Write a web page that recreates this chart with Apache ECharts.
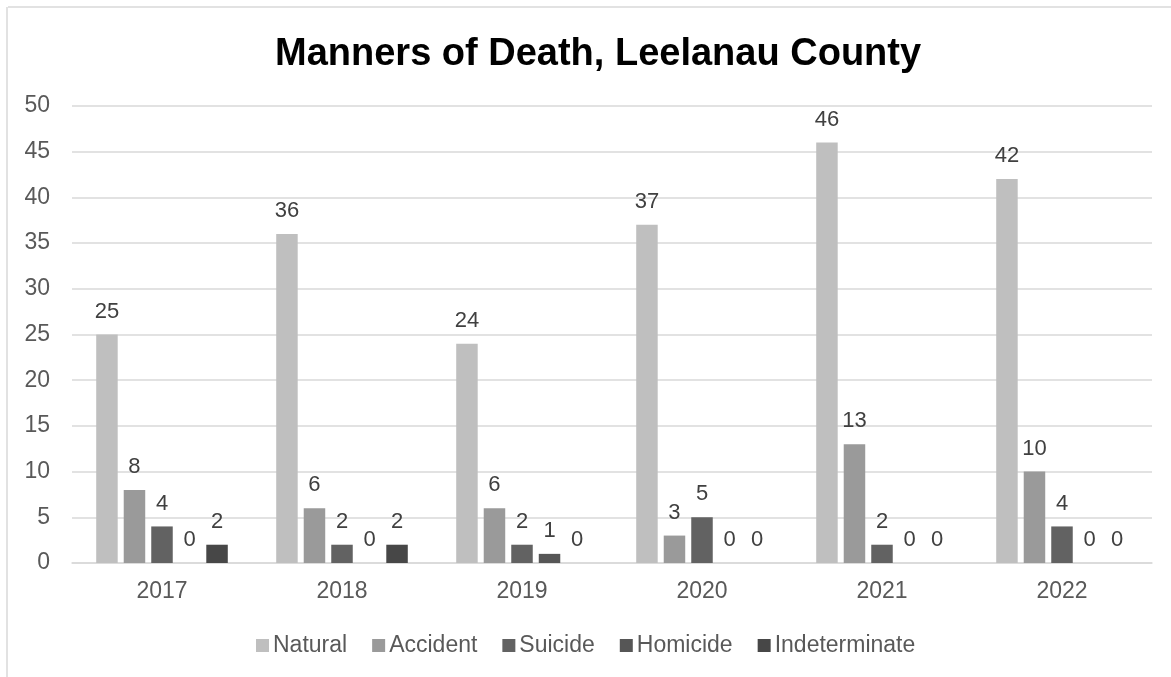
<!DOCTYPE html>
<html><head><meta charset="utf-8">
<script src="https://cdn.jsdelivr.net/npm/echarts@6/dist/echarts.min.js"></script>
<style>html,body{margin:0;padding:0;background:#fff}#c{width:1171px;height:677px}</style>
</head><body><div id="c"></div>
<script>
const categories = ['2017','2018','2019','2020','2021','2022'];
const natural = [25,36,24,37,46,42];
const accident = [8,6,6,3,13,10];
const suicide = [4,2,2,5,2,4];
const homicide = [0,0,1,0,0,0];
const indeterminate = [2,2,0,0,0,0];
const yTicks = {min:0,max:50,interval:5};
const names = ['Natural','Accident','Suicide','Homicide','Indeterminate'];
const colors = ['#bfbfbf','#9a9a9a','#626262','#565656','#474747'];
const seriesData = [natural,accident,suicide,homicide,indeterminate];

const chart = echarts.init(document.getElementById('c'));
chart.setOption({
  animation:false,
  title:{text:'Manners of Death, Leelanau County',left:270,top:31,
    textStyle:{fontFamily:'Liberation Sans',fontWeight:'bold',fontSize:38,color:'#000'}},
  legend:{top:629,left:251,itemWidth:13,itemHeight:13,itemGap:25,icon:'rect',
    textStyle:{fontFamily:'Liberation Sans',fontSize:23,color:'#595959',padding:[0,0,0,-1]}},
  grid:{left:72,right:19,top:106,bottom:114},
  xAxis:{type:'category',data:categories,
    axisLine:{lineStyle:{color:'#d9d9d9',width:1.5}},axisTick:{show:false},
    axisLabel:{fontFamily:'Liberation Sans',fontSize:23,color:'#595959',margin:17}},
  yAxis:{type:'value',min:yTicks.min,max:yTicks.max,interval:yTicks.interval,
    splitLine:{lineStyle:{color:'#d9d9d9',width:1.5}},
    axisLabel:{fontFamily:'Liberation Sans',fontSize:23,color:'#595959',margin:22}},
  graphic:[
    {type:'line',shape:{x1:8,y1:7,x2:1171,y2:7},style:{stroke:'#d9d9d9',lineWidth:1.5}},
    {type:'line',shape:{x1:7,y1:7,x2:7,y2:677},style:{stroke:'#d9d9d9',lineWidth:1.5}}
  ],
  series: names.map((n,i)=>({
    name:n,type:'bar',data:seriesData[i],
    itemStyle:{color:colors[i]},
    barWidth:21.5,barGap:'28%',
    label:{show:true,position:'top',distance:12,fontFamily:'Liberation Sans',fontSize:22,color:'#404040'}
  }))
});
</script></body></html>
